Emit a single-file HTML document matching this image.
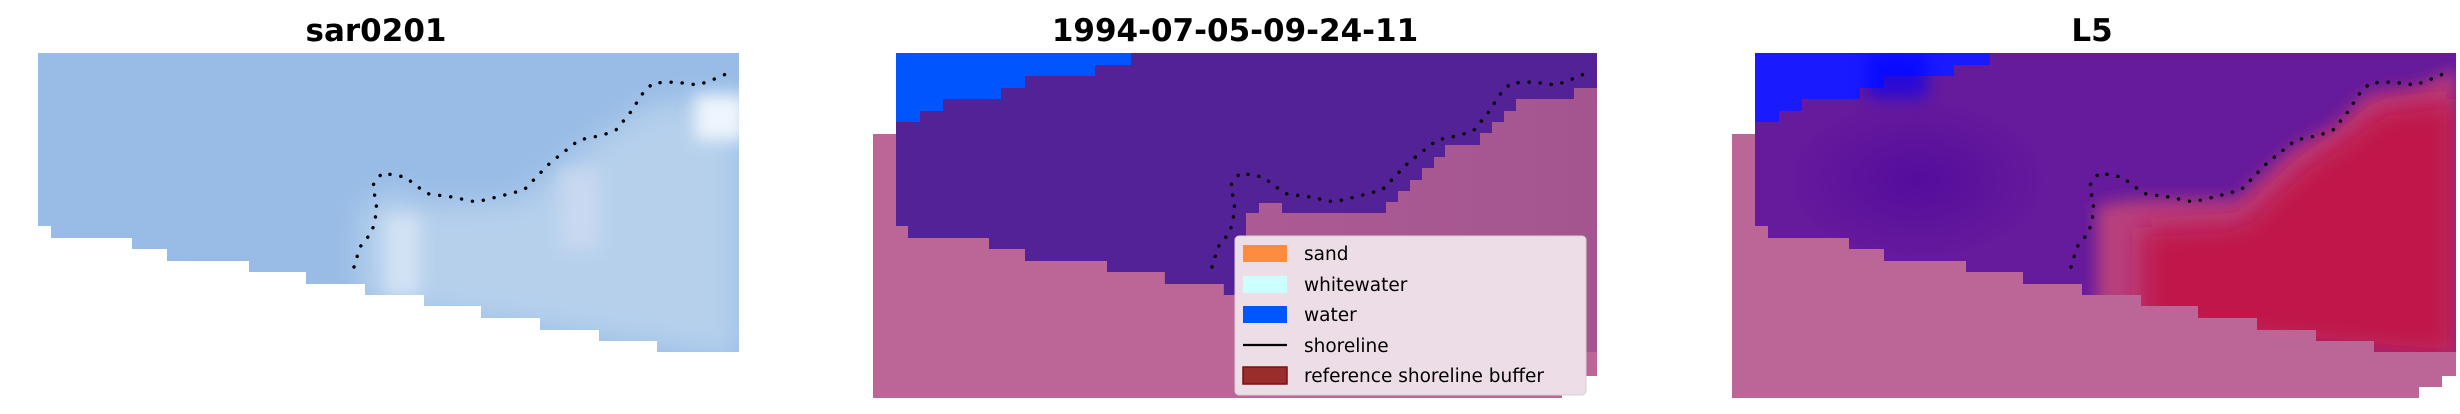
<!DOCTYPE html>
<html><head><meta charset="utf-8"><style>
html,body{margin:0;padding:0;background:#fff;}
svg{display:block;}
text{font-family:"DejaVu Sans","Liberation Sans",sans-serif;}
</style></head><body>
<svg width="2460" height="414" viewBox="0 0 2460 414" xmlns="http://www.w3.org/2000/svg">
<defs>
<clipPath id="dc"><polygon points="38,53 739,53 739,352 657,352 657,341 599,341 599,330 540,330 540,318 481,318 481,306 424,306 424,295 365,295 365,284 306,284 306,272 249,272 249,261 167,261 167,249 132,249 132,238 51,238 51,226 38,226"/></clipPath>
<filter id="b15" filterUnits="userSpaceOnUse" x="-200" y="-200" width="1400" height="900"><feGaussianBlur stdDeviation="14"/></filter>
<filter id="b8" filterUnits="userSpaceOnUse" x="-200" y="-200" width="1400" height="900"><feGaussianBlur stdDeviation="8"/></filter>
<linearGradient id="sandg" x1="0" y1="0" x2="1" y2="0"><stop offset="0" stop-color="#b45f98"/><stop offset="1" stop-color="#a4558f"/></linearGradient>
<radialGradient id="dk"><stop offset="0" stop-color="#540c9c"/><stop offset="1" stop-color="#540c9c" stop-opacity="0"/></radialGradient>
<polyline id="shore" points="354,267 360,247 372,232 377,210 373,185 382,173 405,177 418,187 429,194 452,197 476,202 497,197 524,190 550,163 579,140 603,135 616,130 630,113 643,93 653,83 675,82 698,85 712,80 733,71" fill="none" stroke="#000" stroke-width="3.4" stroke-dasharray="0.1 11" stroke-linecap="round"/>
</defs>

<!-- Panel 1 -->
<text x="376" y="41" font-size="31" font-weight="bold" text-anchor="middle">sar0201</text>
<g clip-path="url(#dc)">
<rect x="38" y="53" width="701" height="300" fill="#98bce6"/>
<polygon points="360,300 360,210 390,190 430,205 520,200 580,150 650,105 739,95 739,360" fill="#b6d0ec" filter="url(#b15)"/>
<rect x="695" y="95" width="50" height="45" fill="#eef5fc" filter="url(#b8)"/>
<rect x="385" y="215" width="35" height="80" fill="#d2e2f4" filter="url(#b8)"/>
<rect x="560" y="170" width="40" height="80" fill="#c8d8f0" filter="url(#b8)"/>
</g>
<use href="#shore"/>

<!-- Panel 2 -->
<text x="1235" y="41" font-size="31" font-weight="bold" text-anchor="middle">1994-07-05-09-24-11</text>
<g transform="translate(858,0)">
<polygon points="15,134 38,134 38,53 739,53 739,376 704,376 704,398 15,398" fill="#bb6696"/>
<g clip-path="url(#dc)"><rect x="38" y="53" width="701" height="300" fill="url(#sandg)"/></g>
<polygon fill="#532296" points="38,53 739,53 739,88 716,88 716,99 658,99 658,111 646,111 646,122 634,122 634,133 622,133 622,145 587,145 587,157 576,157 576,168 564,168 564,180 552,180 552,191 540,191 540,202 528,202 528,213 424,213 424,203 401,203 401,213 388,213 388,295 366,295 366,284 307,284 307,272 249,272 249,261 167,261 167,249 131,249 131,238 50,238 50,226 38,226"/>
<polygon fill="#0055ff" points="38,53 273,53 273,65 237,65 237,76 167,76 167,88 143,88 143,99 85,99 85,111 62,111 62,122 38,122"/>
<use href="#shore"/>
</g>
<rect x="1235" y="236" width="351" height="159" rx="4" fill="#ecdde6" stroke="#d8d0d4" stroke-width="1"/>
<rect x="1243" y="245" width="44" height="17" fill="#ff8c3c"/>
<rect x="1243" y="276" width="44" height="17" fill="#ccffff"/>
<rect x="1243" y="306" width="44" height="17" fill="#0055ff"/>
<line x1="1243" y1="345" x2="1287" y2="345" stroke="#000" stroke-width="2.2"/>
<rect x="1243" y="367" width="44" height="17" fill="#9a2c2c" stroke="#7a1010" stroke-width="1.5"/>
<g font-size="18.5" fill="#000">
<text x="1304" y="260">sand</text>
<text x="1304" y="291">whitewater</text>
<text x="1304" y="321">water</text>
<text x="1304" y="352">shoreline</text>
<text x="1304" y="382">reference shoreline buffer</text>
</g>

<!-- Panel 3 -->
<text x="2092" y="41" font-size="31" font-weight="bold" text-anchor="middle">L5</text>
<g transform="translate(1717,0)">
<polygon points="15,134 38,134 38,53 739,53 739,376 725,376 725,387 702,387 702,398 15,398" fill="#bb6696"/>
<g clip-path="url(#dc)">
<rect x="38" y="53" width="701" height="300" fill="#661a9c"/>
<ellipse cx="200" cy="180" rx="130" ry="80" fill="url(#dk)"/>
<polygon points="380,320 380,205 420,200 520,200 575,150 620,125 650,95 700,88 739,70 739,360" fill="#b8407e" filter="url(#b8)"/>
<polygon points="425,330 425,228 525,222 585,165 630,135 662,108 739,98 739,360" fill="#c0144a" filter="url(#b15)"/>
<polygon fill="#1a1aff" points="38,53 273,53 273,65 237,65 237,76 167,76 167,88 143,88 143,99 85,99 85,111 62,111 62,122 38,122"/>
<rect x="150" y="53" width="60" height="45" fill="#0000ff" opacity="0.6" filter="url(#b8)"/>
</g>
<use href="#shore"/>
</g>
</svg>
</body></html>
